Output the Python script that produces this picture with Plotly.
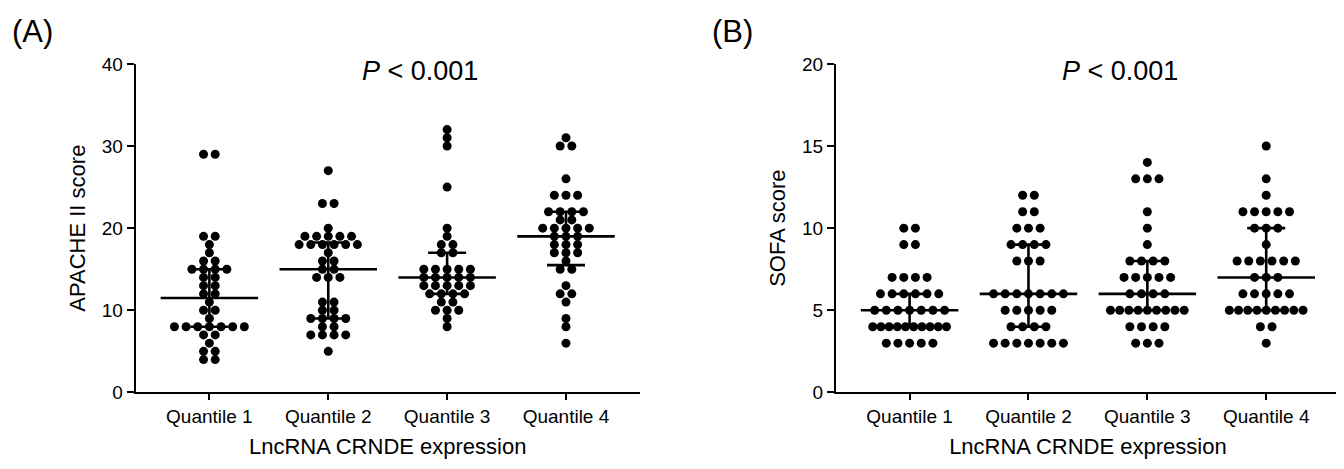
import numpy as np
import plotly.graph_objects as go

categories = ["Quantile 1", "Quantile 2", "Quantile 3", "Quantile 4"]

# Panel A: APACHE II score per quantile
apache_q1 = [29]*2 + [19]*2 + [18] + [17] + [16]*2 + [15]*4 + [14]*2 + [13]*2 + [12]*2 + [11] + [10]*2 + [9] + [8]*7 + [7]*2 + [6] + [5]*2 + [4]*2
apache_q2 = [27] + [23]*2 + [20] + [19]*5 + [18]*6 + [17] + [16]*2 + [15]*2 + [14]*3 + [11]*2 + [10]*2 + [9]*4 + [8]*2 + [7]*4 + [5]
apache_q3 = [32, 31, 30, 25, 20, 19] + [18]*2 + [17]*2 + [15]*5 + [14]*5 + [13]*5 + [12]*4 + [11]*2 + [10]*3 + [9] + [8]
apache_q4 = [31] + [30]*2 + [26] + [24]*3 + [22]*4 + [21]*2 + [20]*5 + [19]*3 + [18]*3 + [17]*3 + [16] + [15]*2 + [13] + [12]*2 + [11] + [9] + [8] + [6]

# Panel B: SOFA score per quantile
sofa_q1 = [10]*2 + [9]*2 + [7]*4 + [6]*6 + [5]*7 + [4]*10 + [3]*5
sofa_q2 = [12]*2 + [11]*2 + [10]*3 + [9]*4 + [8]*3 + [6]*7 + [5]*5 + [4]*4 + [3]*7
sofa_q3 = [14] + [13]*3 + [11] + [10] + [9] + [8]*4 + [7]*5 + [6]*4 + [5]*9 + [4]*4 + [3]*3
sofa_q4 = [15] + [13] + [12] + [11]*5 + [10]*3 + [9] + [8]*6 + [7]*3 + [6]*5 + [5]*9 + [4]*2 + [3]

panels = [
    dict(groups=[apache_q1, apache_q2, apache_q3, apache_q4], ytitle="APACHE II score",
         ymax=40, dtick=10, label="(A)"),
    dict(groups=[sofa_q1, sofa_q2, sofa_q3, sofa_q4], ytitle="SOFA score",
         ymax=20, dtick=5, label="(B)"),
]

fig = go.Figure()

FONT = "Liberation Sans, Arial, sans-serif"
x_domains = [[0.095, 0.47], [0.616, 0.991]]
y_domain = [(469 - 392) / 469, (469 - 48) / 469]
XR = [-0.62, 3.62]

def swarm(vals, center):
    xs, ys = [], []
    for v in sorted(set(vals)):
        n = vals.count(v)
        s = 0.098 if n <= 1 else min(0.098, 0.62 / (n - 1))
        for i in range(n):
            xs.append(center + (i - (n - 1) / 2) * s)
            ys.append(v)
    return xs, ys

for p, panel in enumerate(panels):
    xa = "x" if p == 0 else "x2"
    ya = "y" if p == 0 else "y2"
    for gi, vals in enumerate(panel["groups"]):
        xs, ys = swarm(vals, gi)
        fig.add_trace(go.Scatter(x=xs, y=ys, mode="markers", xaxis=xa, yaxis=ya,
                                 marker=dict(color="black", size=9),
                                 showlegend=False, hoverinfo="skip"))
        arr = np.array(vals, dtype=float)
        q1, med, q3 = np.percentile(arr, [25, 50, 75], method="weibull")
        lx, ly = [], []
        lx += [gi - 0.41, gi + 0.41, None]; ly += [med, med, None]
        lx += [gi - 0.16, gi + 0.16, None]; ly += [q1, q1, None]
        lx += [gi - 0.16, gi + 0.16, None]; ly += [q3, q3, None]
        lx += [gi, gi, None]; ly += [q1, q3, None]
        fig.add_trace(go.Scatter(x=lx, y=ly, mode="lines", xaxis=xa, yaxis=ya,
                                 line=dict(color="black", width=2.6),
                                 showlegend=False, hoverinfo="skip"))
    xkey = "xaxis" if p == 0 else "xaxis2"
    ykey = "yaxis" if p == 0 else "yaxis2"
    fig.update_layout(**{
        xkey: dict(domain=x_domains[p], range=XR, tickmode="array",
                   tickvals=[0, 1, 2, 3], ticktext=categories,
                   showline=True, linecolor="black", linewidth=2,
                   ticks="outside", ticklen=6, tickwidth=2, tickcolor="black",
                   showgrid=False, zeroline=False, anchor=ya,
                   tickfont=dict(family=FONT, size=19, color="black"),
                   title=dict(text="LncRNA CRNDE expression",
                              font=dict(family=FONT, size=22, color="black"),
                              standoff=12)),
        ykey: dict(domain=y_domain, range=[0, panel["ymax"]], dtick=panel["dtick"],
                   showline=True, linecolor="black", linewidth=2,
                   ticks="outside", ticklen=7, tickwidth=2, tickcolor="black",
                   showgrid=False, zeroline=False, anchor=xa,
                   tickfont=dict(family=FONT, size=19, color="black"),
                   title=dict(text=panel["ytitle"],
                              font=dict(family=FONT, size=22, color="black"),
                              standoff=10)),
    })
    fig.add_annotation(x=1.77, y=panel["ymax"], xref=xa, yref=ya,
                       text="<i>P</i> < 0.001", showarrow=False,
                       yanchor="middle", yshift=-7,
                       font=dict(family=FONT, size=27, color="black"))
    fig.add_annotation(x=x_domains[p][0] - 0.077, y=1.0, xref="paper", yref="paper",
                       text=panel["label"], showarrow=False, xanchor="center", yanchor="top",
                       yshift=6, font=dict(family=FONT, size=31, color="black"))

fig.update_layout(width=1344, height=469, plot_bgcolor="white", paper_bgcolor="white",
                  margin=dict(l=0, r=0, t=0, b=0))

fig.write_html("out.html")
